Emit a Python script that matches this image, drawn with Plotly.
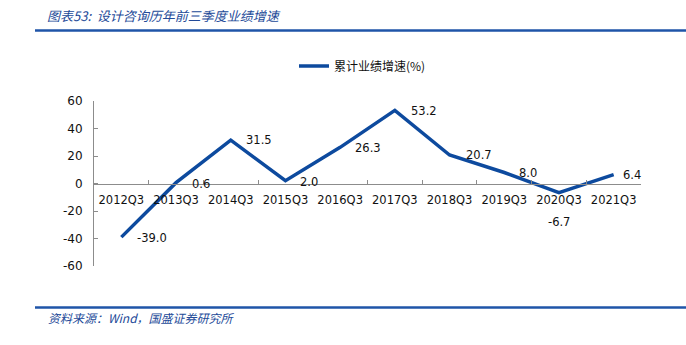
import plotly.graph_objects as go

# Cumulative Q1-Q3 earnings growth of the design & consulting sector (%)
quarters = ["2012Q3", "2013Q3", "2014Q3", "2015Q3", "2016Q3",
            "2017Q3", "2018Q3", "2019Q3", "2020Q3", "2021Q3"]
growth = [-39.0, 0.6, 31.5, 2.0, 26.3, 53.2, 20.7, 8.0, -6.7, 6.4]

series_name = "累计业绩增速(%)"
title_text = "图表53:  设计咨询历年前三季度业绩增速"
source_text = "资料来源：Wind，国盛证券研究所"
y_ticks = [-60, -40, -20, 0, 20, 40, 60]
y_tick_text = [str(v) for v in y_ticks]  # plain hyphen minus

# label placement (pixel shifts relative to each point)
label_dx = [14, 14, 13, 13, 13, 14, 14, 13, 0, 7]
label_dy = [-1, -1, 0, -1, -1, -1, 0, 0, -29, 0]

W, H = 686, 345
L, R, T, B = 94, 45, 101, 79
plot_w = W - L - R
plot_h = H - T - B

def px_x(px):
    return (px - L) / plot_w

def px_y(py):
    return (H - B - py) / plot_h

LINE_BLUE = "#0D4A9E"
TEXT_FONT = "DejaVu Sans"

fig = go.Figure()
fig.add_trace(go.Scatter(
    x=quarters, y=growth, mode="lines", name=series_name,
    line=dict(color=LINE_BLUE, width=3.5),
    showlegend=True,
))

for q, v, dx, dy in zip(quarters, growth, label_dx, label_dy):
    fig.add_annotation(
        x=q, y=v, text=f"{v:.1f}", showarrow=False,
        xanchor="center" if dx == 0 else "left", yanchor="middle",
        xshift=dx, yshift=dy,
        font=dict(family=TEXT_FONT, size=11.5, color="#111111"),
    )

# header / footer
fig.add_annotation(
    xref="paper", yref="paper", x=px_x(45), y=px_y(15),
    xanchor="left", yanchor="middle", showarrow=False, text=title_text,
    font=dict(family="Noto Sans CJK SC", size=13, color="#234A98", style="italic"),
)
fig.add_annotation(
    xref="paper", yref="paper", x=px_x(46), y=px_y(317),
    xanchor="left", yanchor="middle", showarrow=False, text=source_text,
    font=dict(family="Noto Sans CJK SC", size=12, color="#234A98", style="italic"),
)
fig.add_shape(type="line", xref="paper", yref="paper",
              x0=px_x(35), x1=px_x(686), y0=px_y(30.5), y1=px_y(30.5),
              line=dict(color="#1F55A8", width=2.5))
fig.add_shape(type="line", xref="paper", yref="paper",
              x0=px_x(35), x1=px_x(686), y0=px_y(307.5), y1=px_y(307.5),
              line=dict(color="#1F55A8", width=2.5))

fig.update_layout(
    width=W, height=H,
    margin=dict(l=L, r=R, t=T, b=B, pad=0),
    paper_bgcolor="white", plot_bgcolor="white",
    font=dict(family=TEXT_FONT, size=11.5, color="#111111"),
    showlegend=True,
    legend=dict(
        orientation="h", x=px_x(294), y=px_y(66),
        xanchor="left", yanchor="middle",
        font=dict(family="Noto Sans CJK SC", size=12, color="#111111"),
        bgcolor="rgba(0,0,0,0)", itemwidth=30,
    ),
    xaxis=dict(
        type="category", range=[-0.5, len(quarters) - 0.5],
        anchor="free", position=0.5,
        showline=True, linecolor="#8C8C8C", linewidth=1,
        ticks="inside", ticklen=4, tickcolor="#8C8C8C", tickson="boundaries",
        showgrid=False, zeroline=False,
        ticklabelstandoff=6,
        tickfont=dict(family=TEXT_FONT, size=11.5, color="#111111"),
    ),
    yaxis=dict(
        range=[-60, 60], tickvals=y_ticks, ticktext=y_tick_text,
        showline=True, linecolor="#8C8C8C", linewidth=1,
        ticks="inside", ticklen=4, tickcolor="#8C8C8C",
        showgrid=False, zeroline=False,
        ticklabelstandoff=8,
        tickfont=dict(family=TEXT_FONT, size=12, color="#111111"),
    ),
)

fig.write_html("out.html")
